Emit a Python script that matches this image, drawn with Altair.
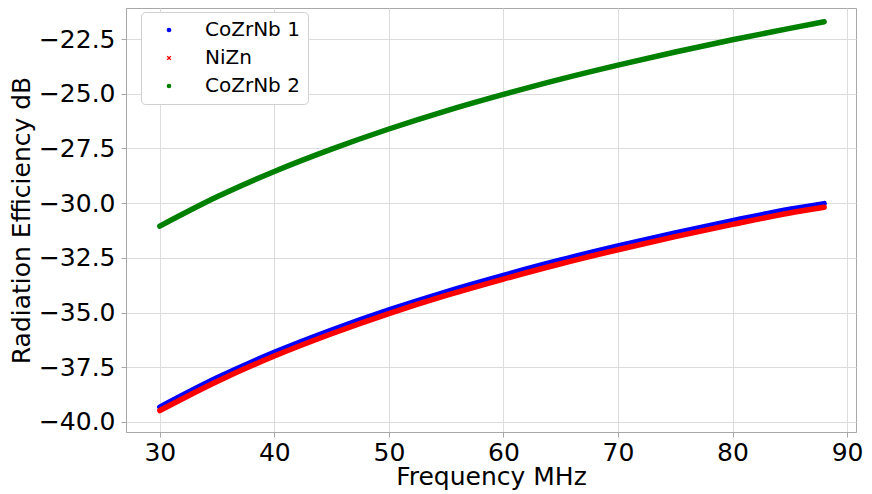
import altair as alt
import pandas as pd

freq = [30, 35, 40, 45, 50, 55, 60, 65, 70, 75, 80, 85, 88]
cozrnb1 = [-39.32, -37.98, -36.82, -35.80, -34.88, -34.05, -33.30, -32.60, -31.96, -31.36, -30.80, -30.28, -30.02]
nizn = [-39.48, -38.15, -36.99, -35.97, -35.05, -34.22, -33.47, -32.77, -32.13, -31.53, -30.97, -30.45, -30.19]
cozrnb2 = [-31.05, -29.71, -28.55, -27.53, -26.61, -25.78, -25.03, -24.33, -23.69, -23.09, -22.53, -22.01, -21.71]

series = ["CoZrNb 1", "NiZn", "CoZrNb 2"]
colors = ["#0000ff", "#ff0000", "#008000"]
x_shape = "M-1,-0.6L-0.6,-1L0,-0.4L0.6,-1L1,-0.6L0.4,0L1,0.6L0.6,1L0,0.4L-0.6,1L-1,0.6L-0.4,0Z"
shapes = ["circle", x_shape, "circle"]
x_ticks = [30, 40, 50, 60, 70, 80, 90]
y_ticks = [-40.0, -37.5, -35.0, -32.5, -30.0, -27.5, -25.0, -22.5]

rows = []
for name, vals in zip(series, [cozrnb1, nizn, cozrnb2]):
    for f, v in zip(freq, vals):
        rows.append({"Frequency": f, "Efficiency": v, "Series": name})
df = pd.DataFrame(rows)

x = alt.X("Frequency:Q",
          scale=alt.Scale(domain=[27.05, 90.78], nice=False, zero=False),
          axis=alt.Axis(values=x_ticks, format="d", title="Frequency MHz",
                        labelPadding=3, titlePadding=-1))
y = alt.Y("Efficiency:Q",
          scale=alt.Scale(domain=[-40.46, -21.08], nice=False, zero=False),
          axis=alt.Axis(values=y_ticks, format=".1f", title="Radiation Efficiency dB",
                        labelPadding=6, titlePadding=4))
color_scale = alt.Scale(domain=series, range=colors)

points = alt.Chart(df).mark_point(filled=True, size=14, opacity=1).encode(
    x=x, y=y,
    color=alt.Color("Series:N", scale=color_scale, title=None),
    shape=alt.Shape("Series:N", scale=alt.Scale(domain=series, range=shapes), title=None),
)

lines = [
    alt.Chart(df).transform_filter(alt.datum.Series == s).mark_line(
        strokeWidth=5.5, strokeCap="round", interpolate="monotone"
    ).encode(x=x, y=y, stroke=alt.Stroke("Series:N", scale=color_scale, legend=None))
    for s in series
]

chart = alt.layer(points, *lines).resolve_legend(
    stroke="independent"
).properties(
    width=730, height=424,
    autosize=alt.AutoSizeParams(type="none"),
    padding={"left": 118, "top": 0, "right": 8, "bottom": 62},
).configure_view(
    stroke="#a8a8a8", strokeWidth=1
).configure_axis(
    labelFont="DejaVu Sans", titleFont="DejaVu Sans",
    labelFontSize=25, titleFontSize=25, titleFontWeight="normal",
    labelColor="#000000", titleColor="#000000",
    gridColor="#dcdcdc", gridWidth=1,
    domainColor="#a8a8a8", tickColor="#a8a8a8", tickSize=5,
).configure_legend(
    orient="none", legendX=15, legendY=4,
    labelFont="DejaVu Sans", labelFontSize=20, labelColor="#000000",
    fillColor="#ffffff", strokeColor="#d0d0d0", cornerRadius=4,
    padding=8, rowPadding=8, symbolSize=22, symbolOpacity=1,
    symbolOffset=10, labelOffset=26,
)

chart.save("out.html", embed_options={"renderer": "svg", "actions": False})
